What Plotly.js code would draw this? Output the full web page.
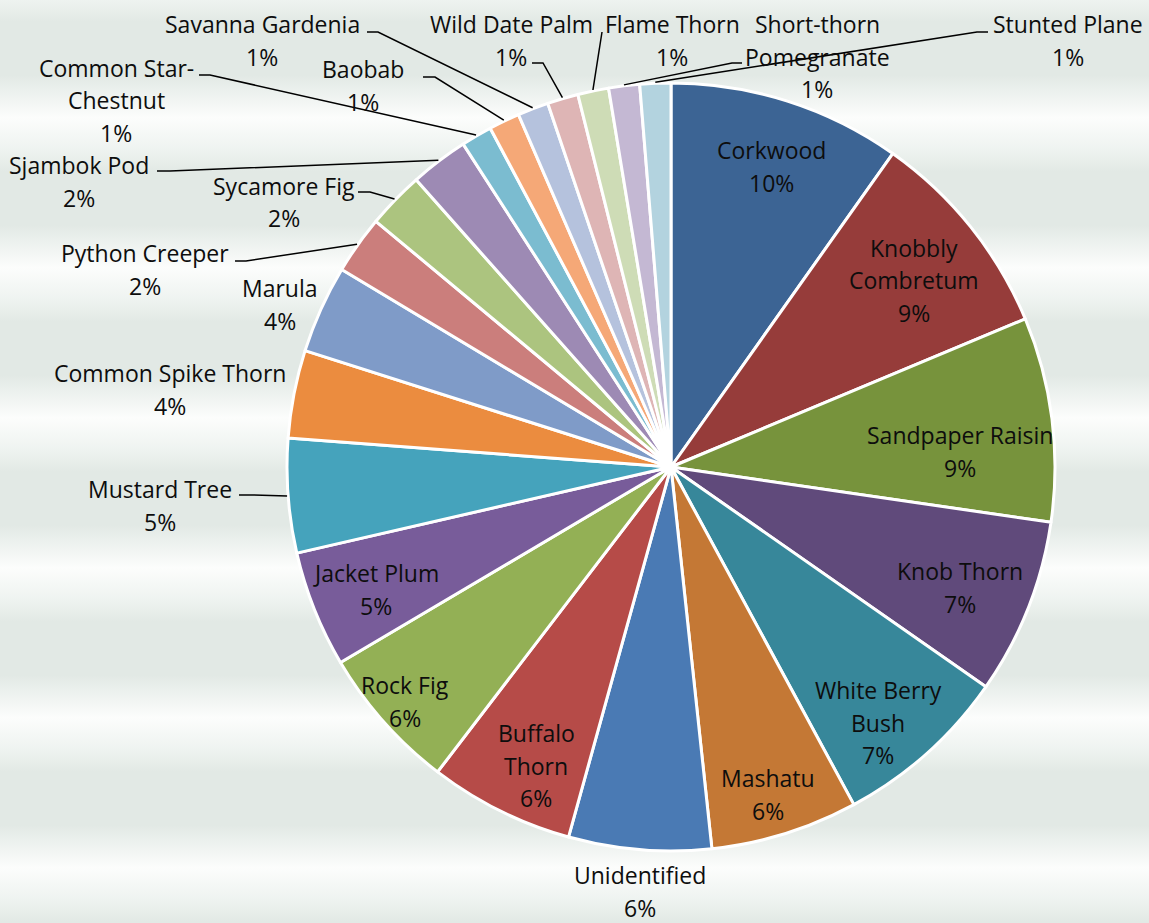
<!DOCTYPE html>
<html><head><meta charset="utf-8">
<script src="https://cdn.plot.ly/plotly-3.0.1.min.js"></script>
<style>
html,body{margin:0;padding:0;}
body{width:1149px;height:923px;overflow:hidden;
background:repeating-linear-gradient(to bottom,#eef3f0 0px,#e2e9e5 22px,#e2e9e5 75px,#fcfdfc 118px,#eef3f0 150px);}
#chart{width:1149px;height:923px;}
</style></head><body><div id="chart"></div>
<script>
// ---- data ----
const species = ["Corkwood","Knobbly Combretum","Sandpaper Raisin","Knob Thorn","White Berry Bush","Mashatu","Unidentified","Buffalo Thorn","Rock Fig","Jacket Plum","Mustard Tree","Common Spike Thorn","Marula","Python Creeper","Sycamore Fig","Sjambok Pod","Common Star-Chestnut","Baobab","Savanna Gardenia","Wild Date Palm","Flame Thorn","Short-thorn Pomegranate","Stunted Plane"];
const shares = [9.8,8.9,8.6,7.4,7.4,6.2,6.0,6.1,6.1,4.9,4.8,3.7,3.7,2.45,2.4,2.45,1.3,1.3,1.3,1.3,1.3,1.3,1.3];
// ---- display (wrapping of label names) ----
const labelText = ["Corkwood","Knobbly<br>Combretum","Sandpaper Raisin","Knob Thorn","White Berry<br>Bush","Mashatu","Unidentified","Buffalo<br>Thorn","Rock Fig","Jacket Plum","Mustard Tree","Common Spike Thorn","Marula","Python Creeper","Sycamore Fig","Sjambok Pod","Common Star-<br>Chestnut","Baobab","Savanna Gardenia","Wild Date Palm","Flame Thorn","Short-thorn<br>Pomegranate","Stunted Plane"];
// ---- styles ----
const sliceColors = ["#3C6494","#963C3A","#77933C","#604A7B","#37879A","#C47835","#4A7AB4","#B64B48","#93B055","#785C9A","#45A3BC","#EB8C3F","#7F9BC8","#CB7E7C","#ACC47F","#9D8AB4","#7BBCD0","#F5A877","#B5C2DD","#DEB5B5","#CEDCB6","#C4B8D3","#B3D3DF"];
// label block positions (px: centre x, first line centre y)
const labelPos = [[771,150],[914,248],[960,435],[960,571],[878,690],[768,778],[640,875],[536,733],[405,685],[376,573],[160,489],[170,373],[280,288],[145,253],[284,186],[79,165],[116,68],[363,69],[262,24],[511,24],[672,24],[817,24],[1068,24]];
// leader lines: [labelEndX, labelEndY, elbowX] (px) or null
const leaders = [null,null,null,null,null,null,null,null,null,null,[239,495,252],null,null,[235,261,246],[358,192,370],[157,171,170],[199,75,210],[423,77,435],[367,32,378],[532,63,543],[602,32,602],[742,63,732],[988,32,977]];

const W=1149,H=923,CX=671,CY=467,R=384,LS=32.5;
const total = shares.reduce((a,b)=>a+b,0);
const annotations=[], shapes=[];
let cum=0;
shares.forEach((v,i)=>{
  const a0=cum/total*2*Math.PI; cum+=v; const a1=cum/total*2*Math.PI;
  const mid=(a0+a1)/2;
  const lines = labelText[i].split("<br>").concat([Math.round(v/total*100)+"%"]);
  const [lx,ly]=labelPos[i];
  lines.forEach((t,j)=>{
    annotations.push({x:lx/W,y:1-(ly+j*LS)/H,xref:"paper",yref:"paper",xanchor:"center",yanchor:"middle",
      borderpad:0,text:t,showarrow:false,font:{family:"Open Sans",size:23,color:"#0d0d0d"}});
  });
  if(leaders[i]){
    const ex=CX+(R+1)*Math.sin(mid), ey=CY-(R+1)*Math.cos(mid);
    const [tx,ty,bx]=leaders[i];
    const p=(x,y)=>(x/W).toFixed(5)+","+(1-y/H).toFixed(5);
    shapes.push({type:"path",xref:"paper",yref:"paper",layer:"above",
      path:"M"+p(ex,ey)+" L"+p(bx,ty)+" L"+p(tx,ty),line:{color:"#000",width:1.5}});
  }
});

const trace={type:"pie",values:shares,labels:species,sort:false,direction:"clockwise",rotation:0,
  textinfo:"none",hoverinfo:"none",showlegend:false,
  marker:{colors:sliceColors,line:{color:"#ffffff",width:3}},
  domain:{x:[(CX-R)/W,(CX+R)/W],y:[(H-CY-R)/H,(H-CY+R)/H]}};
const layout={width:W,height:H,margin:{l:0,r:0,t:0,b:0},paper_bgcolor:"rgba(0,0,0,0)",
  plot_bgcolor:"rgba(0,0,0,0)",showlegend:false,annotations:annotations,shapes:shapes};
Plotly.newPlot("chart",[trace],layout,{displayModeBar:false,staticPlot:true});
</script></body></html>
